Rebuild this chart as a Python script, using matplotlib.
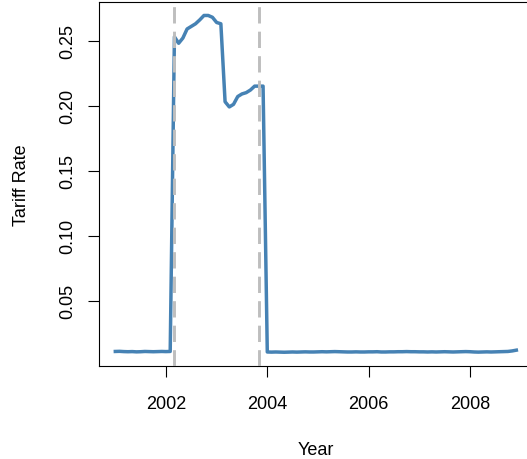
import numpy as np
import matplotlib.pyplot as plt

plt.rcParams['font.family'] = ['Liberation Sans', 'DejaVu Sans']

# monthly tariff rate, Jan 2001 - Dec 2008
start_year = 2001
pre_rates = [0.0108, 0.0109, 0.0107, 0.0106, 0.0107, 0.0105, 0.0106,
             0.0108, 0.0107, 0.0106, 0.0107, 0.0108, 0.0107, 0.0108]
tariff_rates = [0.253, 0.248, 0.252, 0.259, 0.261, 0.263, 0.266, 0.2694,
                0.2694, 0.268, 0.264, 0.263, 0.203, 0.199, 0.201, 0.207,
                0.209, 0.210, 0.212, 0.215, 0.215, 0.215]
post_rates = [0.0104, 0.0103, 0.0104, 0.0103, 0.0102, 0.0103, 0.0104, 0.0103,
              0.0104, 0.0105, 0.0104, 0.0104, 0.0105, 0.0106, 0.0105, 0.0106,
              0.0107, 0.0106, 0.0105, 0.0104, 0.0104, 0.0105, 0.0104, 0.0104,
              0.0105, 0.0105, 0.0106, 0.0104, 0.0104, 0.0105, 0.0105, 0.0106,
              0.0106, 0.0107, 0.0106, 0.0106, 0.0105, 0.0105, 0.0104, 0.0105,
              0.0104, 0.0105, 0.0106, 0.0105, 0.0104, 0.0105, 0.0106, 0.0107,
              0.0106, 0.0104, 0.0103, 0.0104, 0.0105, 0.0104, 0.0105, 0.0106,
              0.0107, 0.0108, 0.0112, 0.0118]
rates = pre_rates + tariff_rates + post_rates
years = start_year + np.arange(len(rates)) / 12

# tariff start / end
events = [2002.164, 2003.834]

x_ticks = [2002, 2004, 2006, 2008]
y_ticks = [0.05, 0.10, 0.15, 0.20, 0.25]
y_tick_labels = ["0.05", "0.10", "0.15", "0.20", "0.25"]

fig = plt.figure(figsize=(5.27, 4.6), dpi=100)
ax = fig.add_axes([0.1884, 0.2028, 0.8218, 0.7907])

ax.plot(years, rates, color="#4682B4", lw=2.5, solid_joinstyle="round", zorder=2)
for ev in events:
    ax.axvline(ev, color="#BEBEBE", lw=2.1, linestyle=(0, (5.6, 2.8)), zorder=3)

ax.margins(x=0.04, y=0.04)

ax.set_xticks(x_ticks)
ax.set_yticks(y_ticks, y_tick_labels, rotation=90, va="center")
ax.tick_params(axis="both", length=8, width=0.8, labelsize=13)
ax.tick_params(axis="x", pad=13.3)
ax.tick_params(axis="y", pad=8.5)
for s in ax.spines.values():
    s.set_linewidth(0.8)

ax.set_xlabel("Year", fontsize=13)
ax.xaxis.set_label_coords(0.5, -0.2057)
ax.set_ylabel("Tariff Rate", fontsize=13)
ax.yaxis.set_label_coords(-0.160, 0.5)

fig.savefig("out.png", dpi=100)
